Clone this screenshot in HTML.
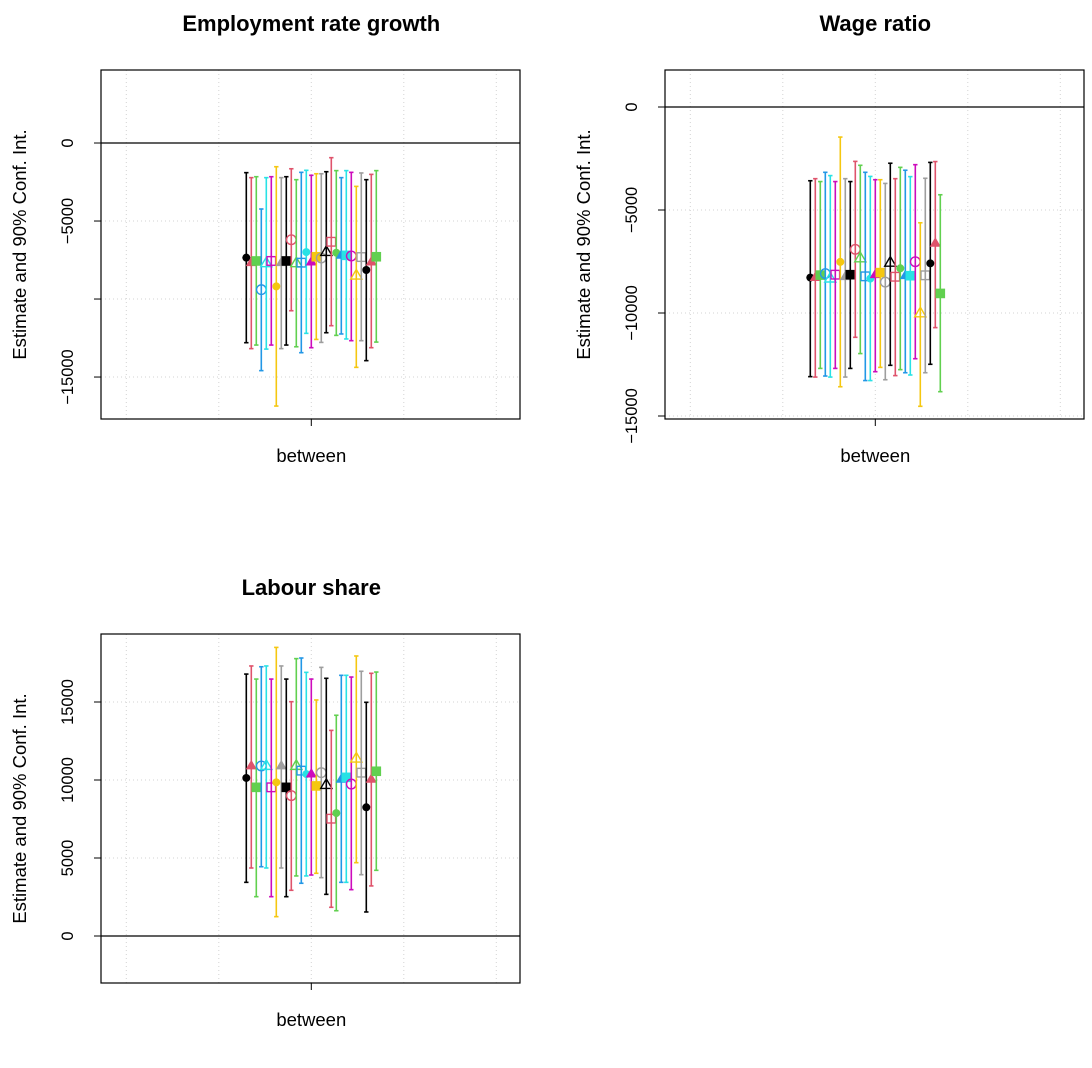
<!DOCTYPE html>
<html><head><meta charset="utf-8"><style>
body{margin:0;background:#fff;}
svg{display:block;font-family:"Liberation Sans",Arial,sans-serif;}
</style></head><body>
<svg id="chart" width="1092" height="1068" viewBox="0 0 1092 1068" xmlns="http://www.w3.org/2000/svg"></svg>
<script>
const seriesCount = 27;
const colors = ["#000000","#DF536B","#61D04F","#2297E6","#28E2E5","#CD0BBC","#F5C710","#9E9E9E"];
const pchs = [16,17,15,1,2,0];
const category = ["between"];
const emplEst = [-7350,-7670,-7560,-9400,-7710,-7560,-9190,-7670,-7560,-6200,-7710,-7670,-6990,-7630,-7290,-7370,-6990,-6330,-7030,-7200,-7200,-7240,-8500,-7310,-8140,-7630,-7290];
const emplLo = [-12800,-13180,-12950,-14590,-13210,-12950,-16860,-13180,-12950,-10750,-13060,-13440,-12200,-13120,-12590,-12780,-12160,-11710,-12330,-12240,-12560,-12670,-14380,-12670,-13950,-13120,-12760];
const emplHi = [-1900,-2220,-2160,-4230,-2220,-2160,-1520,-2220,-2160,-1650,-2350,-1880,-1750,-2070,-1970,-1970,-1840,-940,-1770,-2220,-1770,-1880,-2780,-1920,-2350,-2010,-1770];
const wageEst = [-8280,-8280,-8160,-8090,-8330,-8140,-7520,-8240,-8140,-6910,-7350,-8220,-8330,-8140,-8040,-8500,-7560,-8240,-7830,-8190,-8190,-7510,-10020,-8170,-7590,-6620,-9050];
const wageLo = [-13090,-13110,-12690,-13060,-13110,-12690,-13580,-13110,-12690,-11180,-11970,-13280,-13280,-12850,-12640,-13240,-12540,-13040,-12750,-12900,-13010,-12220,-14530,-12900,-12490,-10710,-13820];
const wageHi = [-3580,-3480,-3620,-3170,-3330,-3620,-1460,-3480,-3620,-2640,-2830,-3170,-3370,-3530,-3530,-3710,-2730,-3480,-2930,-3070,-3380,-2800,-5620,-3460,-2690,-2650,-4260];
const labEst = [10130,10900,9530,10900,10900,9530,9850,10900,9530,9000,10900,10600,10380,10380,9620,10470,9680,7520,7880,10040,10170,9740,11370,10470,8250,10040,10560];
const labLo = [3440,4360,2520,4440,4360,2520,1240,4360,2520,2930,3850,3380,3850,3910,4020,3740,2670,1840,1620,3440,3440,2970,4700,3930,1540,3210,4210];
const labHi = [16790,17310,16470,17260,17310,16470,18500,17310,16470,15020,17780,17820,16900,16470,15130,17220,16520,13180,14150,16710,16710,16600,17950,16970,14980,16840,16920];
const panels = [
 {name:"employment",title:"Employment rate growth",L:101,R:520,T:70,B:419,ymin:-17690,ymax:4680,ticks:[-15000,-10000,-5000,0],labels:["\u221215000","","\u22125000","0"],est:emplEst,lo:emplLo,hi:emplHi,titleY:31},
 {name:"wage",title:"Wage ratio",L:665,R:1084,T:70,B:419,ymin:-15146,ymax:1796,ticks:[-15000,-10000,-5000,0],labels:["\u221215000","\u221210000","\u22125000","0"],est:wageEst,lo:wageLo,hi:wageHi,titleY:31},
 {name:"labour",title:"Labour share",L:101,R:520,T:634,B:983,ymin:-3013,ymax:19359,ticks:[0,5000,10000,15000],labels:["0","5000","10000","15000"],est:labEst,lo:labLo,hi:labHi,titleY:595}
];
const NS="http://www.w3.org/2000/svg";
const svg=document.getElementById('chart');
function mk(tag,attrs,parent){const e=document.createElementNS(NS,tag);for(const k in attrs)e.setAttribute(k,attrs[k]);(parent||svg).appendChild(e);return e;}
panels.forEach(p=>{
  const g=mk('g',{});
  
  
  const ys=v=>p.B-(v-p.ymin)/(p.ymax-p.ymin)*(p.B-p.T);
  const xc=(p.L+p.R)/2+0.8;
  const dx=(p.R-p.L)/4.53;
  for(let k=-2;k<=2;k++){const x=xc+k*dx;const gl=mk('line',{x1:x,x2:x,y1:p.T,y2:p.B,stroke:'#d3d3d3','stroke-dasharray':'1,3'},g);}
  p.ticks.forEach(t=>{if(t!==0){const y=ys(t);const gl=mk('line',{x1:p.L,x2:p.R,y1:y,y2:y,stroke:'#d3d3d3','stroke-dasharray':'1,3'},g);}});
  const z=mk('line',{x1:p.L,x2:p.R,y1:ys(0),y2:ys(0),stroke:'#000','stroke-width':1.3},g);
  
  for(let i=0;i<seriesCount;i++){
    const c=colors[i%8],pch=pchs[i%6];
    const x=xc-65+i*5;
    const sg=mk('g',{},g);
    
    
    const yl=ys(p.lo[i]),yh=ys(p.hi[i]),ye=ys(p.est[i]);
    mk('line',{x1:x,x2:x,y1:yl,y2:yh,stroke:c,'stroke-width':1.6},sg);
    mk('line',{x1:x-2.2,x2:x+2.2,y1:yl,y2:yl,stroke:c,'stroke-width':1.6},sg);
    mk('line',{x1:x-2.2,x2:x+2.2,y1:yh,y2:yh,stroke:c,'stroke-width':1.6},sg);
    let m;
    if(pch===16)m=mk('circle',{cx:x,cy:ye,r:4,fill:c},sg);
    else if(pch===1)m=mk('circle',{cx:x,cy:ye,r:4.8,fill:'none',stroke:c,'stroke-width':1.4},sg);
    else if(pch===15)m=mk('rect',{x:x-4.8,y:ye-4.8,width:9.6,height:9.6,fill:c},sg);
    else if(pch===0)m=mk('rect',{x:x-4.3,y:ye-4.3,width:8.6,height:8.6,fill:'none',stroke:c,'stroke-width':1.4},sg);
    else {const r=6.2;const pts=`${x},${ye-r} ${x-r*0.9},${ye+r*0.55} ${x+r*0.9},${ye+r*0.55}`;
      m=mk('polygon',pch===17?{points:pts,fill:c}:{points:pts,fill:'none',stroke:c,'stroke-width':1.4},sg);}
    
    
  }
  const box=mk('rect',{x:p.L,y:p.T,width:p.R-p.L,height:p.B-p.T,fill:'none',stroke:'#000','stroke-width':1.2},g);
  
  p.ticks.forEach((t,k)=>{const y=ys(t);
    mk('line',{x1:p.L-7,x2:p.L,y1:y,y2:y,stroke:'#000'},g);
    if(p.labels[k]){const tx=mk('text',{x:0,y:0,transform:`translate(${p.L-28},${y}) rotate(-90)`,'text-anchor':'middle','font-size':16.5},g);tx.textContent=p.labels[k];
      }
  });
  mk('line',{x1:xc,x2:xc,y1:p.B,y2:p.B+7,stroke:'#000'},g);
  const xl=mk('text',{x:xc,y:p.B+43,'text-anchor':'middle','font-size':18.5},g);xl.textContent=category[0];
  
  const yt=mk('text',{x:0,y:0,transform:`translate(${p.L-75},${(p.T+p.B)/2}) rotate(-90)`,'text-anchor':'middle','font-size':18.5},g);
  yt.textContent='Estimate and 90% Conf. Int.';
  
  const tt=mk('text',{x:xc,y:p.titleY,'text-anchor':'middle','font-size':22,'font-weight':'bold'},g);
  tt.textContent=p.title;
  
});
</script>
</body></html>
